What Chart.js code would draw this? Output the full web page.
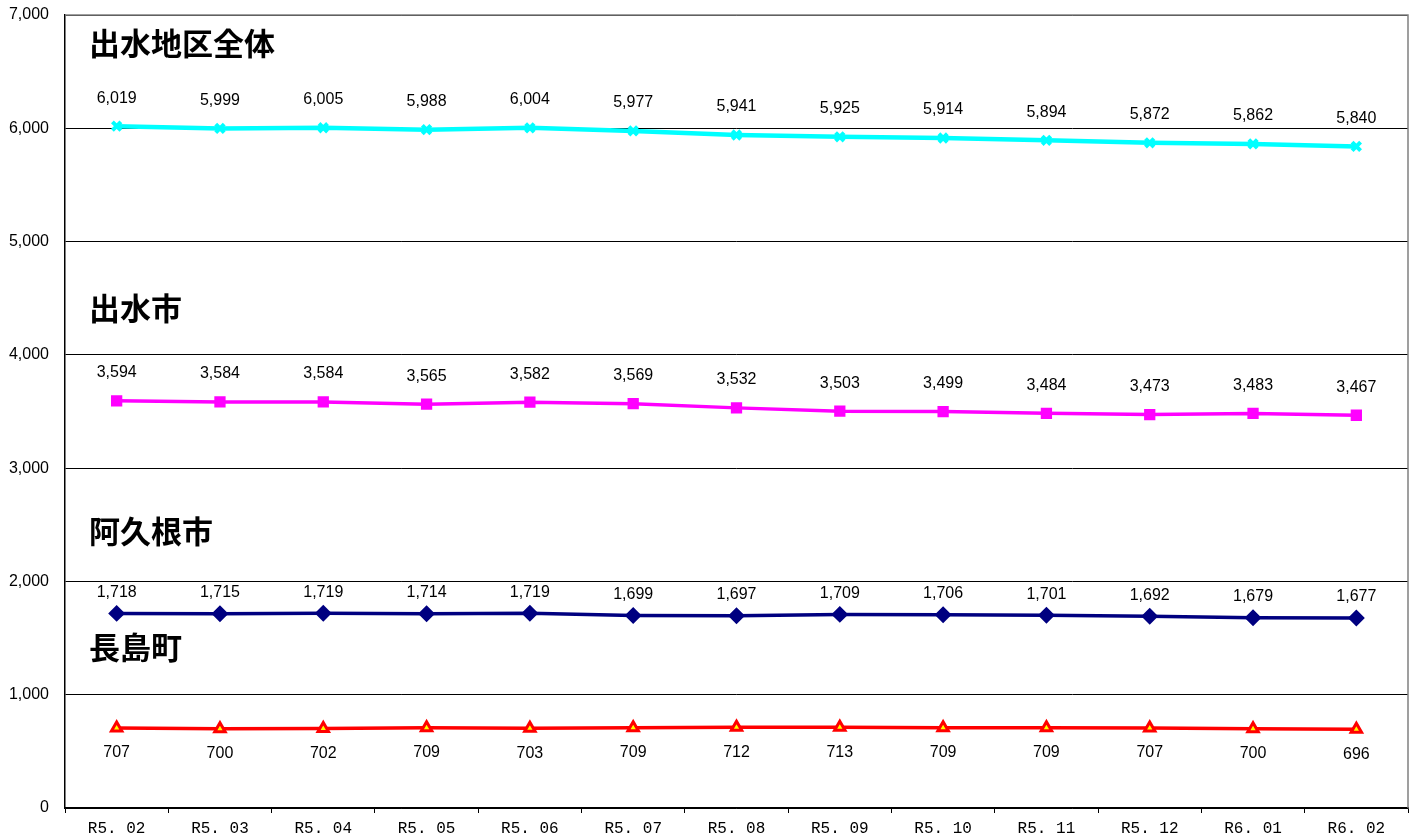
<!DOCTYPE html>
<html>
<head>
<meta charset="utf-8">
<script src="https://cdn.jsdelivr.net/npm/chart.js@4"></script>
<style>
  html, body { margin: 0; padding: 0; background: #fff; }
  #wrap { width: 1418px; height: 839px; }
</style>
</head>
<body>
<div id="wrap"><canvas id="popChart"></canvas></div>
<script>
// months (x axis)
const months = ['R5. 02', 'R5. 03', 'R5. 04', 'R5. 05', 'R5. 06', 'R5. 07', 'R5. 08',
                'R5. 09', 'R5. 10', 'R5. 11', 'R5. 12', 'R6. 01', 'R6. 02'];

const izumiArea = [6019, 5999, 6005, 5988, 6004, 5977, 5941, 5925, 5914, 5894, 5872, 5862, 5840];
const izumiCity = [3594, 3584, 3584, 3565, 3582, 3569, 3532, 3503, 3499, 3484, 3473, 3483, 3467];
const akuneCity = [1718, 1715, 1719, 1714, 1719, 1699, 1697, 1709, 1706, 1701, 1692, 1679, 1677];
const nagashimaTown = [707, 700, 702, 709, 703, 709, 712, 713, 709, 709, 707, 700, 696];

const yTicks = [0, 1000, 2000, 3000, 4000, 5000, 6000, 7000];

// series names written inside the plot, with the y value they sit at
const seriesNames = ['出水地区全体', '出水市', '阿久根市', '長島町'];
const seriesNameY = [6750, 4410, 2445, 1420];

const FONT = '"Noto Sans CJK JP", "Noto Sans", sans-serif';
const NUMFONT = '"Liberation Sans", Arial, sans-serif';
const MONOFONT = '"Liberation Mono", "DejaVu Sans Mono", monospace';

// draws the value next to each point, and the series names
const valueLabels = {
    id: 'valueLabels',
    afterDatasetsDraw(chart) {
        const ctx = chart.ctx;
        ctx.save();
        ctx.fillStyle = '#000';
        ctx.font = '16px ' + NUMFONT;
        ctx.textAlign = 'center';
        ctx.textBaseline = 'middle';
        chart.data.datasets.forEach((ds, i) => {
            const meta = chart.getDatasetMeta(i);
            meta.data.forEach((pt, j) => {
                const text = ds.data[j].toLocaleString('en-US');
                const dy = ds.labelBelow ? ds.labelGap : -ds.labelGap;
                ctx.fillText(text, pt.x, pt.y + dy);
            });
        });
        ctx.font = 'bold 31px ' + FONT;
        ctx.textAlign = 'left';
        const y = chart.scales.y;
        seriesNames.forEach((name, k) => {
            ctx.fillText(name, chart.chartArea.left + 24, y.getPixelForValue(seriesNameY[k]));
        });
        // gray frame on top and right
        const a = chart.chartArea;
        ctx.strokeStyle = '#808080';
        ctx.lineWidth = 1.5;
        ctx.beginPath();
        ctx.moveTo(a.left, a.top);
        ctx.lineTo(a.right, a.top);
        ctx.lineTo(a.right, a.bottom);
        ctx.stroke();
        ctx.restore();
    }
};

const ctx = document.getElementById('popChart').getContext('2d');
const popChart = new Chart(ctx, {
    type: 'line',
    data: {
        labels: months,
        datasets: [
            {
                label: seriesNames[0],
                data: izumiArea,
                borderColor: '#00FFFF',
                backgroundColor: '#00FFFF',
                borderWidth: 4.5,
                pointStyle: 'crossRot',
                pointRadius: 6,
                pointBorderWidth: 4,
                labelGap: 28
            },
            {
                label: seriesNames[1],
                data: izumiCity,
                borderColor: '#FF00FF',
                backgroundColor: '#FF00FF',
                borderWidth: 3.5,
                pointStyle: 'rect',
                pointRadius: 5.5,
                labelGap: 28
            },
            {
                label: seriesNames[2],
                data: akuneCity,
                borderColor: '#000080',
                backgroundColor: '#000080',
                borderWidth: 3.5,
                pointStyle: 'rectRot',
                pointRadius: 6,
                labelGap: 21
            },
            {
                label: seriesNames[3],
                data: nagashimaTown,
                borderColor: '#FF0000',
                backgroundColor: '#FFFF00',
                borderWidth: 3.5,
                pointStyle: 'triangle',
                pointRadius: 6,
                pointBorderWidth: 3,
                labelBelow: true,
                labelGap: 25
            }
        ]
    },
    options: {
        responsive: true,
        maintainAspectRatio: false,
        animation: false,
        layout: { padding: { top: 15, right: 7, left: 0, bottom: 0 } },
        plugins: {
            legend: { display: false },
            tooltip: { enabled: false }
        },
        scales: {
            x: {
                offset: true,
                grid: {
                    offset: true,
                    drawOnChartArea: false,
                    color: '#000',
                    tickLength: 5
                },
                border: { color: '#000', width: 1.5 },
                ticks: {
                    color: '#000',
                    font: { family: MONOFONT, size: 16 },
                    maxRotation: 0,
                    padding: 6
                },
                afterFit(scale) { scale.height = 31; scale.paddingRight = 0; scale.paddingLeft = 0; }
            },
            y: {
                min: 0,
                max: 7000,
                afterBuildTicks(scale) { scale.ticks = yTicks.map(v => ({ value: v })); },
                grid: {
                    color: '#000',
                    lineWidth: 1,
                    drawTicks: false
                },
                border: { color: '#000', width: 1.5 },
                ticks: {
                    color: '#000',
                    font: { family: NUMFONT, size: 16 },
                    padding: 16,
                    callback: v => v.toLocaleString('en-US')
                },
                afterFit(scale) { scale.width = 65; scale.paddingTop = 0; scale.paddingBottom = 0; }
            }
        }
    },
    plugins: [valueLabels]
});
</script>
</body>
</html>
